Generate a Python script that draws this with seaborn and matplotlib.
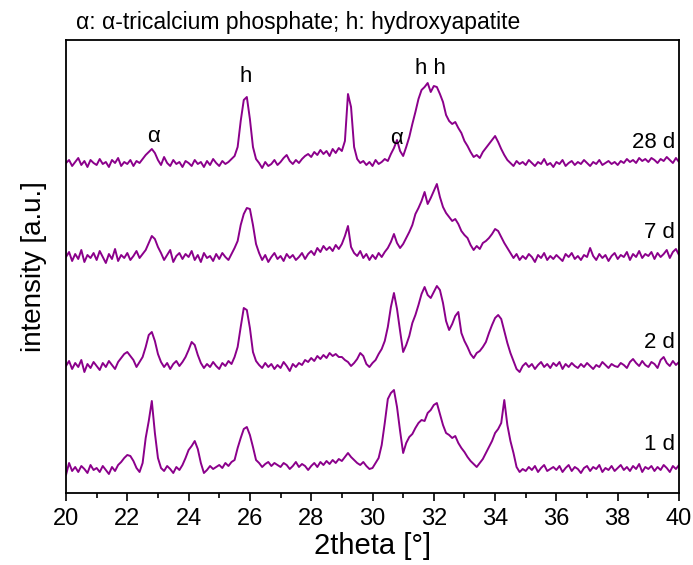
import numpy as np
import pandas as pd
import matplotlib
matplotlib.use("Agg")
import matplotlib.pyplot as plt
import seaborn as sns
from matplotlib.ticker import MultipleLocator

# ---- data (intensity in arbitrary units, sampled every 0.1 deg from 20 to 40) ----
t28 = [330, 333, 327, 331, 335, 328, 332, 326, 333, 330,
       328, 334, 329, 331, 326, 333, 330, 335, 327, 331,
       329, 333, 327, 332, 330, 334, 338, 341, 344, 340,
       333, 328, 336, 330, 327, 333, 329, 331, 326, 332,
       330, 327, 333, 329, 331, 326, 332, 328, 334, 330,
       327, 332, 329, 331, 334, 337, 346, 372, 393, 396,
       374, 346, 334, 330, 325, 331, 327, 329, 333, 328,
       331, 335, 338, 332, 329, 333, 330, 334, 337, 339,
       336, 341, 338, 343, 339, 342, 337, 344, 340, 345,
       342, 352, 399, 386, 346, 334, 330, 332, 328, 331,
       327, 333, 329, 331, 334, 332, 339, 345, 353, 342,
       337, 346, 356, 369, 381, 394, 403, 406, 410, 401,
       407, 406, 399, 391, 378, 372, 369, 371, 365, 360,
       352, 347, 341, 336, 338, 335, 341, 345, 349, 353,
       357, 351, 344, 338, 333, 330, 327, 332, 329, 331,
       328, 333, 330, 327, 331, 329, 334, 328, 330, 326,
       331, 329, 333, 327, 330, 332, 328, 331, 329, 333,
       330, 327, 331, 329, 333, 328, 330, 332, 329, 331,
       328, 332, 330, 334, 331, 333, 330, 335, 332, 334,
       331, 335, 333, 330, 334, 332, 336, 333, 330, 335,
       331]

t7 = [236, 241, 232, 239, 234, 243, 231, 238, 235, 240,
      233, 242, 236, 230, 239, 234, 244, 232, 238, 235,
      240, 233, 237, 242, 235, 239, 243, 250, 257, 254,
      246, 240, 233, 238, 243, 231, 237, 240, 234, 239,
      236, 242, 233, 238, 231, 240, 235, 237, 232, 239,
      234, 240, 236, 233, 239, 245, 252, 268, 279, 285,
      284, 268, 249, 240, 233, 238, 231, 236, 240, 234,
      237, 232, 239, 235, 238, 233, 236, 240, 234, 239,
      242, 238, 245, 241, 247, 243, 246, 242, 248, 244,
      249, 257, 267, 246, 240, 237, 242, 235, 239, 233,
      238, 234, 240, 236, 241, 245, 251, 259, 250, 245,
      249, 255, 261, 268, 279, 285, 292, 301, 289, 295,
      302, 309, 296, 286, 280, 276, 272, 274, 269, 262,
      258, 255, 248, 243, 247, 244, 250, 252, 255, 259,
      264, 262, 256, 250, 245, 240, 235, 239, 233, 237,
      234, 239, 236, 231, 238, 235, 240, 233, 237, 234,
      238, 235, 232, 239, 236, 240, 234, 237, 233, 238,
      236, 245, 237, 233, 239, 235, 238, 232, 237, 240,
      234, 238, 236, 241, 233, 239, 236, 242, 235, 239,
      237, 241, 234, 240, 236, 239, 243, 235, 241, 244,
      238]

t2 = [127, 132, 124, 130, 126, 133, 121, 129, 125, 131,
      127, 123, 130, 126, 132, 128, 124, 131, 135, 139,
      141, 137, 133, 126, 131, 136, 146, 158, 161, 152,
      139, 131, 126, 130, 124, 129, 132, 127, 131, 136,
      143, 151, 148, 138, 130, 125, 129, 126, 131, 127,
      124, 130, 127, 132, 129, 136, 146, 166, 185, 183,
      165, 141, 132, 128, 125, 130, 126, 129, 124, 128,
      125, 131, 127, 122, 129, 126, 130, 128, 133, 131,
      135, 132, 137, 134, 138, 135, 140, 137, 139, 136,
      136, 133, 131, 127, 130, 134, 140, 137, 129, 126,
      130, 133, 139, 144, 152, 166, 186, 200, 184, 162,
      141, 148, 157, 170, 178, 188, 199, 206, 198, 195,
      201, 207, 203, 190, 172, 163, 169, 177, 181, 160,
      152, 146, 139, 135, 140, 142, 146, 151, 160, 168,
      175, 178, 174, 162, 150, 140, 132, 124, 121, 127,
      130, 126, 129, 124, 128, 131, 126, 129, 125, 130,
      127, 131, 124, 129, 126, 130, 127, 125, 129, 126,
      130, 127, 124, 128, 126, 131, 128, 125, 129, 127,
      126, 130, 128, 125, 131, 134, 130, 127, 132, 128,
      126, 131, 129, 125, 133, 136, 130, 127, 132, 128,
      131]

t1 = [18, 30, 22, 26, 21, 27, 24, 20, 28, 23,
      25, 21, 27, 23, 19, 26, 22, 28, 31, 35,
      38, 37, 32, 25, 21, 30, 55, 72, 92, 60,
      35, 25, 22, 27, 24, 20, 26, 23, 28, 35,
      43, 47, 52, 44, 30, 20, 23, 27, 24, 26,
      28, 25, 30, 27, 31, 33, 45, 55, 64, 66,
      58, 46, 33, 30, 26, 29, 31, 27, 30, 28,
      26, 30, 28, 24, 27, 31, 26, 29, 27, 23,
      27, 30, 26, 31, 28, 32, 29, 33, 30, 34,
      32, 36, 40, 36, 33, 30, 28, 31, 27, 24,
      25, 30, 35, 48, 70, 94, 100, 103, 86, 62,
      40, 50, 56, 59, 65, 70, 73, 72, 80, 83,
      88, 90, 79, 68, 60, 58, 55, 57, 50, 45,
      41, 36, 32, 29, 26, 30, 34, 40, 46, 52,
      60, 64, 70, 93, 68, 52, 40, 26, 21, 24,
      22, 26, 23, 27, 21, 25, 28, 22, 24, 26,
      23, 27, 21, 25, 28, 22, 26, 24, 20, 25,
      27, 22, 26, 24, 28, 21, 25, 23, 27, 22,
      25, 28, 23, 26, 22, 27, 24, 29, 21, 26,
      24, 27, 22, 26, 23, 28, 25, 21, 27, 24,
      28]

two_theta = np.linspace(20, 40, len(t28))
series = {"28 d": t28, "7 d": t7, "2 d": t2, "1 d": t1}
label_pos = {"28 d": 350, "7 d": 260, "2 d": 150, "1 d": 48}
peak_marks = [("\u03b1", 22.85, 357), ("h", 25.87, 416), ("\u03b1", 30.78, 355), ("h h", 31.88, 424)]
title = "\u03b1: \u03b1-tricalcium phosphate; h: hydroxyapatite"

# ---- plotting ----
sns.set_theme(style="white")
plt.rcParams["font.family"] = ["Liberation Sans", "DejaVu Sans"]
plt.rcParams["text.color"] = "black"
plt.rcParams["axes.labelcolor"] = "black"
plt.rcParams["xtick.color"] = "black"
plt.rcParams["ytick.color"] = "black"
color = "#8B008B"

fig = plt.figure(figsize=(6.93, 5.65), dpi=100)
ax = fig.add_axes([66 / 693, 1 - 493 / 565, (679 - 66) / 693, (493 - 40) / 565])

for name, vals in series.items():
    df = pd.DataFrame({"2theta": two_theta, "intensity": vals})
    sns.lineplot(data=df, x="2theta", y="intensity", ax=ax, color=color,
                 linewidth=1.4, estimator=None, sort=False)
    ax.text(39.88, label_pos[name], name, ha="right", va="center", fontsize=16, color="black")

for txt, xx, yy in peak_marks:
    ax.text(xx, yy, txt, ha="center", va="center", fontsize=16, color="black")

ax.set_xlim(20, 40)
ax.set_ylim(0, 453)
ax.xaxis.set_major_locator(MultipleLocator(2))
ax.xaxis.set_minor_locator(MultipleLocator(1))
ax.tick_params(axis="x", which="major", direction="out", length=6, width=1.2,
               labelsize=17, bottom=True, top=False, pad=5, colors="black")
ax.tick_params(axis="x", which="minor", direction="out", length=3.5, width=1.2, bottom=True,
               colors="black")
ax.set_yticks([])
for sp in ax.spines.values():
    sp.set_visible(True)
    sp.set_color("black")
    sp.set_linewidth(1.3)

ax.set_xlabel("2theta [\u00b0]", fontsize=21, labelpad=1, color="black")
ax.set_ylabel("intensity [a.u.]", fontsize=20, labelpad=14, color="black")
fig.text(76 / 693, 1 - 22 / 565, title, ha="left", va="center", fontsize=16.5, color="black")

fig.savefig("out.png", dpi=100)
